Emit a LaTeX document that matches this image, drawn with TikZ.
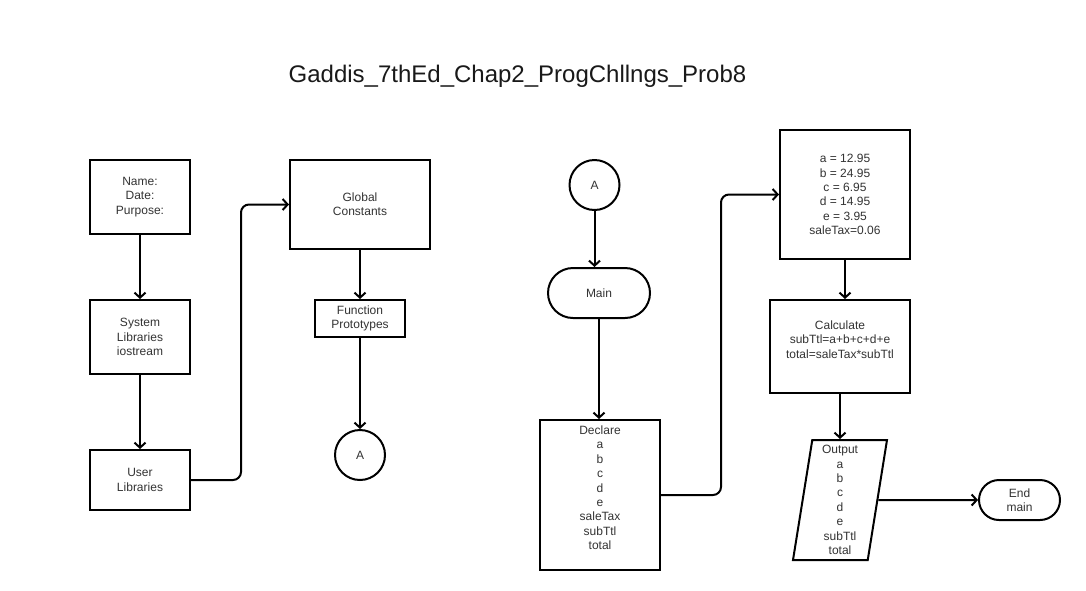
\documentclass[tikz,border=0pt]{standalone}
\usepackage{fontspec}
\setmainfont{Liberation Sans}
\usetikzlibrary{arrows.meta,shapes.geometric}
\definecolor{txt}{RGB}{51,51,51}
\begin{document}
\begin{tikzpicture}[x=1pt,y=-1pt,
  box/.style={draw, line width=2pt, rectangle, inner sep=0pt, align=center,
    font=\fontsize{12}{14.4}\selectfont, text=txt},
  circ/.style={box, circle, minimum size=50pt},
  conn/.style={line width=2pt, -{Straight Barb[length=5pt,width=11pt]}},
]
\useasboundingbox (0,0) rectangle (1086,590);
\fill[white] (0,0) rectangle (1086,590);

\node[font=\fontsize{24}{28}\selectfont, text=black!90] (title) at (517.5,76) {Gaddis\_7thEd\_Chap2\_ProgChllngs\_Prob8};

% left part
\node[box, minimum width=100pt, minimum height=74pt] (name) at (140,197) {Name:\\Date:\\Purpose:};
\node[box, minimum width=100pt, minimum height=74pt] (sys) at (140,337) {System\\Libraries\\iostream};
\node[box, minimum width=100pt, minimum height=60pt] (user) at (140,480) {User\\Libraries};
\node[box, minimum width=140pt, minimum height=89pt] (glob) at (360,204.5) {Global\\Constants};
\node[box, minimum width=90pt, minimum height=37pt] (proto) at (360,318.5) {Function\\Prototypes};
\node[circ] (a1) at (360,455) {A};

\draw[conn] (name) -- (sys);
\draw[conn] (sys) -- (user);
\draw[conn, rounded corners=8pt] (user.east) -- ++(50,0) |- (glob.west);
\draw[conn] (glob) -- (proto);
\draw[conn] (proto) -- (a1);

% middle part
\node[circ] (a2) at (594.5,185) {A};
\node[box, minimum width=102pt, minimum height=50pt, rounded corners=25pt] (main) at (599,293) {Main};
\node[box, minimum width=120pt, minimum height=150pt] (decl) at (600,495)
  {Declare\\a\\b\\c\\d\\e\\saleTax\\subTtl\\total\\\mbox{}};

% right part
\node[box, minimum width=130pt, minimum height=129pt] (vals) at (845,194.5)
  {a = 12.95\\b = 24.95\\c = 6.95\\d = 14.95\\e = 3.95\\saleTax=0.06};
\node[box, minimum width=140pt, minimum height=93pt] (calc) at (840,346.5)
  {Calculate\\subTtl=a+b+c+d+e\\total=saleTax*subTtl\\\mbox{}};
\node[box, trapezium, trapezium stretches body, trapezium left angle=80, trapezium right angle=100,
  minimum width=94pt, minimum height=120pt] (outp) at (840,500)
  {Output\\a\\b\\c\\d\\e\\subTtl\\total};
\node[box, minimum width=81pt, minimum height=40pt, rounded corners=20pt] (endm) at (1019.5,500) {End\\main};

\draw[conn] (a2.south) -- (a2.south |- main.north);
\draw[conn] (main.south) -- (main.south |- decl.north);
\draw[conn, rounded corners=8pt] (decl.east) -- ++(60,0) |- (vals.west);
\draw[conn] (vals.south) -- (vals.south |- calc.north);
\draw[conn] (calc.south) -- (calc.south |- outp.north);
\draw[conn] (outp.east) -- (endm.west);
\end{tikzpicture}
\end{document}
